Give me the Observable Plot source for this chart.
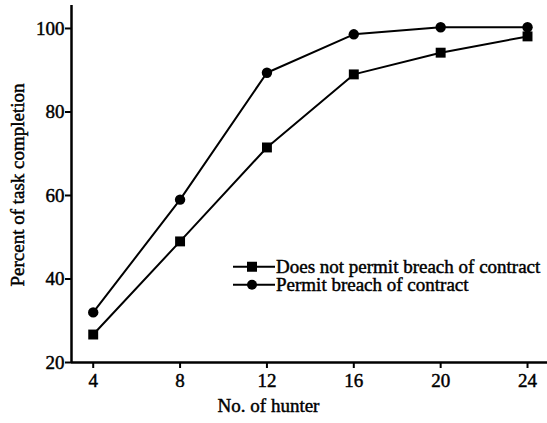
<!DOCTYPE html>
<html><head><meta charset="utf-8">
<script src="https://cdn.jsdelivr.net/npm/d3@7"></script>
<script src="https://cdn.jsdelivr.net/npm/@observablehq/plot@0.6"></script>
<style>
body{margin:0;background:#fff;}
#wrap{position:relative;width:547px;height:423px;font-family:"Liberation Serif",serif;}
#legend{position:absolute;left:233px;top:258px;font-size:19px;line-height:17.5px;color:#000;-webkit-text-stroke:0.45px #000;}
#legend div{display:flex;align-items:center;white-space:nowrap;height:17.5px;}
#legend svg{display:block;margin-right:1px;}
#chart svg text{font-family:"Liberation Serif",serif;font-weight:normal;stroke:#000;stroke-width:0.45px;}
</style></head>
<body><div id="wrap"><div id="chart"></div>
<div id="legend"></div></div>
<script>
const hunters = [4, 8, 12, 16, 20, 24];
const notPermit = [26.7, 49, 71.5, 89, 94.2, 98.1];
const permit = [32, 59, 89.4, 98.6, 100.3, 100.3];
const seriesNames = ["Does not permit breach of contract", "Permit breach of contract"];
const xTicks = [4, 8, 12, 16, 20, 24];
const yTicks = [20, 40, 60, 80, 100];

const rows = [];
hunters.forEach((h, i) => rows.push({x: h, y: notPermit[i], s: seriesNames[0]}));
hunters.forEach((h, i) => rows.push({x: h, y: permit[i], s: seriesNames[1]}));
const sq = rows.filter(d => d.s === seriesNames[0]);
const ci = rows.filter(d => d.s === seriesNames[1]);

const plot = Plot.plot({
  width: 547, height: 423,
  marginLeft: 71, marginRight: 0, marginTop: 5, marginBottom: 61,
  style: {fontFamily: "Liberation Serif", fontSize: "19px", color: "#000", background: "#fff"},
  x: {domain: [3, 24.92], ticks: xTicks, label: null},
  y: {domain: [20, 105.5], ticks: yTicks, label: null},
  marks: [
    Plot.axisX({ticks: xTicks, tickSize: 6, tickPadding: 5, stroke: "#000", strokeWidth: 2, label: null, fontSize: 19}),
    Plot.axisY({ticks: yTicks, tickSize: 6, tickPadding: 1, stroke: "#000", strokeWidth: 2, label: null, fontSize: 19}),
    Plot.ruleX([3], {stroke: "#000", strokeWidth: 2.5}),
    Plot.ruleY([20], {stroke: "#000", strokeWidth: 2.5}),
    Plot.line(rows, {x: "x", y: "y", z: "s", stroke: "#000", strokeWidth: 2}),
    Plot.dot(sq, {x: "x", y: "y", symbol: "square", r: 5.6, fill: "#000"}),
    Plot.dot(ci, {x: "x", y: "y", symbol: "circle", r: 5.2, fill: "#000"}),
    Plot.text(["No. of hunter"], {frameAnchor: "bottom", dx: -41, dy: 49, fontSize: 19}),
    Plot.text(["Percent of task completion"], {frameAnchor: "left", textAnchor: "middle", rotate: -90, dx: -54, dy: 1, fontSize: 19})
  ]
});
document.getElementById("chart").appendChild(plot);

const leg = document.getElementById("legend");
seriesNames.forEach((name, i) => {
  const row = document.createElement("div");
  const sym = i === 0
    ? '<rect x="14" y="3.75" width="10" height="10" fill="#000"/>'
    : '<circle cx="19" cy="8.75" r="5" fill="#000"/>';
  row.innerHTML = `<svg width="42" height="17.5"><line x1="0" x2="42" y1="8.75" y2="8.75" stroke="#000" stroke-width="2"/>${sym}</svg><span>${name}</span>`;
  leg.appendChild(row);
});
</script></body></html>
